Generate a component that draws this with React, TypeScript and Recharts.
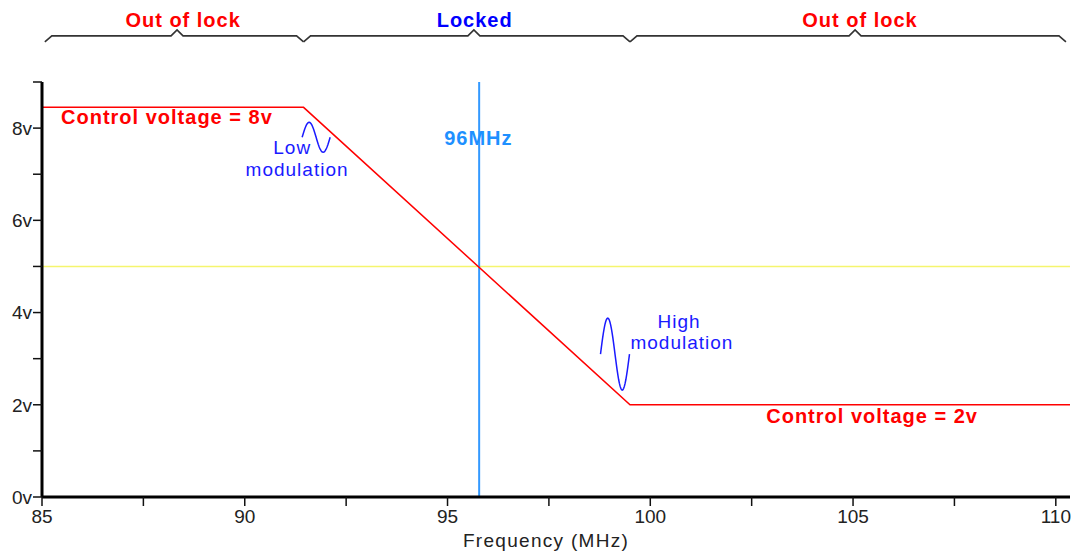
import React from 'react';
import { LineChart, Line, XAxis, YAxis, ReferenceLine, ReferenceArea, ReferenceDot } from 'recharts';

// ---- data ----
const curveFreqs = [85, 91.45, 99.5, 110.35];
const curveVolts = [8.45, 8.45, 2, 2];

const xTicks = [85, 87.5, 90, 92.5, 95, 97.5, 100, 102.5, 105, 107.5, 110];
const yTicks = [0, 1, 2, 3, 4, 5, 6, 7, 8, 9];

const lockFreq = 95.78;
const midVolt = 5;

const braceStarts = [85.07, 91.45, 99.5];
const braceEnds = [91.45, 99.5, 110.25];
const bracePeaks = [88.33, 95.65, 105.05];
const braceLabelFreqs = [88.48, 95.67, 105.17];
const braceLabels = ['Out of lock', 'Locked', 'Out of lock'];
const braceTop = 10.0;
const braceFoot = 9.87;

const textFreqs = [85.47, 105.47, 95.76, 91.17, 91.29, 100.71, 100.78];
const textVolts = [8.09, 1.61, 7.63, 7.43, 6.96, 3.67, 3.2];
const textLabels = ['Control voltage = 8v', 'Control voltage = 2v', '96MHz', 'Low', 'modulation', 'High', 'modulation'];

const waveFreqs = [91.76, 99.13];
const waveVolts = [7.8, 3.1];

// ---- styles ----
const FONT = '"Liberation Sans", Arial, sans-serif';
const braceColors = ['#ff0000', '#0000ff', '#ff0000'];
const textStyles = [
  { fill: '#ff0000', weight: 700, size: 20, anchor: 'start' },
  { fill: '#ff0000', weight: 700, size: 20, anchor: 'middle' },
  { fill: '#1e90ff', weight: 700, size: 20, anchor: 'middle' },
  { fill: '#1a1aff', weight: 400, size: 19, anchor: 'middle' },
  { fill: '#1a1aff', weight: 400, size: 19, anchor: 'middle' },
  { fill: '#1a1aff', weight: 400, size: 19, anchor: 'middle' },
  { fill: '#1a1aff', weight: 400, size: 19, anchor: 'middle' },
];
const waveSizes = [
  { w: 14, a: 15 },
  { w: 14.5, a: 36 },
];

const curveData = curveFreqs.map((f, i) => ({ f, v: curveVolts[i] }));

function wavePath(cx: number, cy: number, w: number, a: number) {
  const pts: string[] = [];
  const n = 40;
  for (let i = 0; i <= n; i++) {
    const t = i / n;
    const px = cx - w + 2 * w * t;
    const py = cy - a * Math.sin(2 * Math.PI * t);
    pts.push(`${i === 0 ? 'M' : 'L'}${px.toFixed(2)},${py.toFixed(2)}`);
  }
  return pts.join(' ');
}

const makeBrace = (i: number) => (props: any) => {
  const { x, y, width, height } = props;
  const left = x;
  const right = x + width;
  const top = y;
  const bottom = y + height;
  const span = braceEnds[i] - braceStarts[i];
  const peak = x + (width * (bracePeaks[i] - braceStarts[i])) / span;
  const labelX = x + (width * (braceLabelFreqs[i] - braceStarts[i])) / span;
  const d = `M${left},${bottom} L${left + 7},${top} L${peak - 6},${top} L${peak},${top - 6} L${peak + 6},${top} L${right - 7},${top} L${right},${bottom}`;
  return (
    <g>
      <path d={d} fill="none" stroke="#333" strokeWidth={1.6} />
      <text
        x={labelX}
        y={top - 9}
        textAnchor="middle"
        fill={braceColors[i]}
        fontFamily={FONT}
        fontWeight={700}
        fontSize={20}
        letterSpacing={1}
      >
        {braceLabels[i]}
      </text>
    </g>
  );
};

const makeText = (i: number) => (props: any) => {
  const s = textStyles[i];
  return (
    <text
      x={props.cx}
      y={props.cy}
      textAnchor={s.anchor as any}
      fill={s.fill}
      fontFamily={FONT}
      fontWeight={s.weight}
      fontSize={s.size}
      letterSpacing={1}
    >
      {textLabels[i]}
    </text>
  );
};

const makeWave = (i: number) => (props: any) => (
  <path
    d={wavePath(props.cx, props.cy, waveSizes[i].w, waveSizes[i].a)}
    fill="none"
    stroke="#1a1aff"
    strokeWidth={1.5}
  />
);

export default function App() {
  return (
    <div style={{ position: 'absolute', left: 0, top: 0, width: 1076, height: 551, background: '#fff' }}>
      <LineChart
        width={1076}
        height={551}
        data={curveData}
        margin={{ top: 82, right: 6, bottom: 0, left: 0 }}
      >
        <XAxis
          dataKey="f"
          type="number"
          domain={[85, 110.35]}
          allowDataOverflow
          ticks={xTicks}
          interval={0}
          height={54}
          tickSize={9}
          tickMargin={4}
          tickFormatter={(v: number) => (v % 5 === 0 ? String(v) : '')}
          axisLine={{ stroke: '#000', strokeWidth: 3 }}
          tickLine={{ stroke: '#111', strokeWidth: 1.5 }}
          tick={{ fill: '#222', fontSize: 19, fontFamily: FONT }}
          label={{
            value: 'Frequency (MHz)',
            position: 'insideBottom',
            offset: 4,
            dx: -10,
            fill: '#222',
            fontSize: 19,
            fontFamily: FONT,
            letterSpacing: 1.3,
          }}
        />
        <YAxis
          type="number"
          domain={[0, 9]}
          allowDataOverflow
          ticks={yTicks}
          interval={0}
          width={42}
          tickSize={9}
          tickMargin={1}
          tickFormatter={(v: number) => (v % 2 === 0 ? `${v}v` : '')}
          axisLine={{ stroke: '#000', strokeWidth: 3 }}
          tickLine={{ stroke: '#111', strokeWidth: 1.5 }}
          tick={{ fill: '#222', fontSize: 19, fontFamily: FONT }}
        />
        <ReferenceLine y={midVolt} stroke="#f5f56e" strokeWidth={1.6} />
        <ReferenceLine x={lockFreq} stroke="#3399ff" strokeWidth={2} />
        <Line
          dataKey="v"
          type="linear"
          stroke="#ff0000"
          strokeWidth={1.5}
          dot={false}
          isAnimationActive={false}
        />
        {braceStarts.map((s, i) => (
          <ReferenceArea
            key={`b${i}`}
            x1={s}
            x2={braceEnds[i]}
            y1={braceFoot}
            y2={braceTop}
            ifOverflow="visible"
            shape={makeBrace(i)}
          />
        ))}
        {textFreqs.map((f, i) => (
          <ReferenceDot key={`t${i}`} x={f} y={textVolts[i]} r={0} ifOverflow="visible" shape={makeText(i)} />
        ))}
        {waveFreqs.map((f, i) => (
          <ReferenceDot key={`w${i}`} x={f} y={waveVolts[i]} r={0} ifOverflow="visible" shape={makeWave(i)} />
        ))}
      </LineChart>
    </div>
  );
}
